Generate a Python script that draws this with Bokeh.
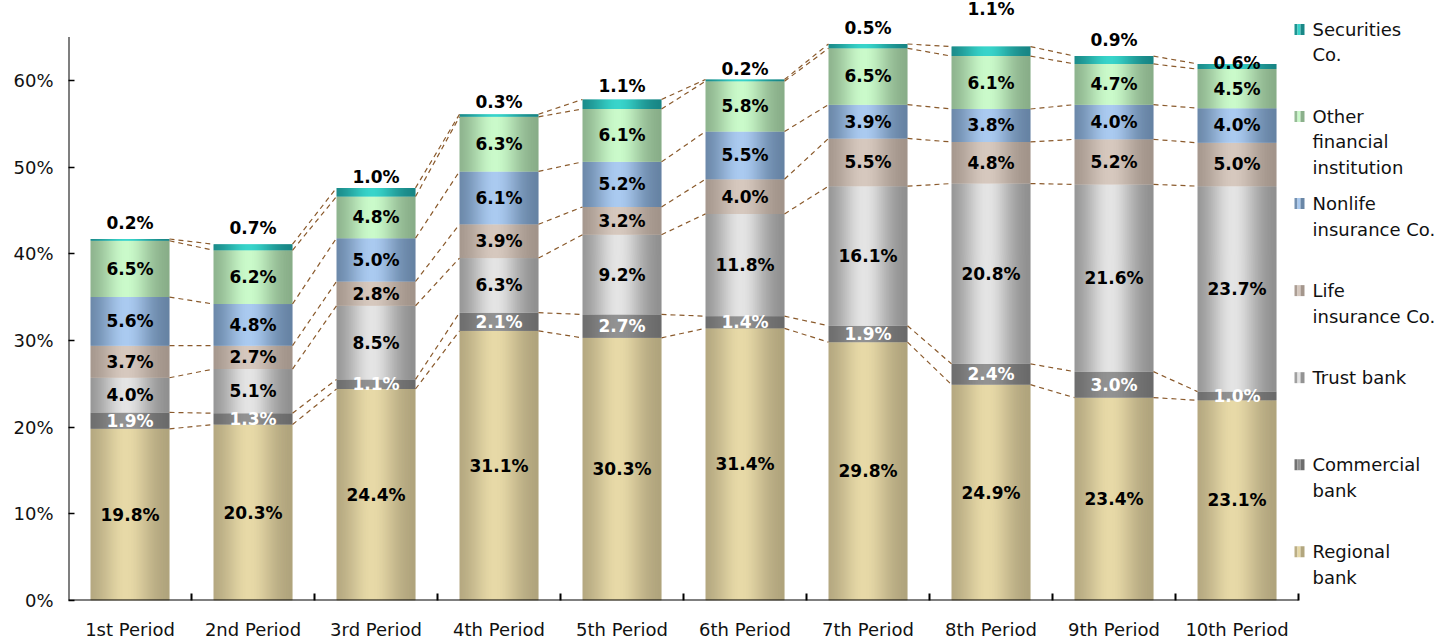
import math
from bokeh.plotting import figure
from bokeh.models import ColumnDataSource, FixedTicker, Range1d
from bokeh.core.properties import value
from bokeh.embed import file_html
from bokeh.resources import INLINE

# ---------------- data ----------------
periods = ["1st Period", "2nd Period", "3rd Period", "4th Period", "5th Period",
           "6th Period", "7th Period", "8th Period", "9th Period", "10th Period"]
regional_bank = [19.8, 20.3, 24.4, 31.1, 30.3, 31.4, 29.8, 24.9, 23.4, 23.1]
commercial_bank = [1.9, 1.3, 1.1, 2.1, 2.7, 1.4, 1.9, 2.4, 3.0, 1.0]
trust_bank = [4.0, 5.1, 8.5, 6.3, 9.2, 11.8, 16.1, 20.8, 21.6, 23.7]
life_insurance = [3.7, 2.7, 2.8, 3.9, 3.2, 4.0, 5.5, 4.8, 5.2, 5.0]
nonlife_insurance = [5.6, 4.8, 5.0, 6.1, 5.2, 5.5, 3.9, 3.8, 4.0, 4.0]
other_financial = [6.5, 6.2, 4.8, 6.3, 6.1, 5.8, 6.5, 6.1, 4.7, 4.5]
securities_co = [0.2, 0.7, 1.0, 0.3, 1.1, 0.2, 0.5, 1.1, 0.9, 0.6]
y_ticks = [0, 10, 20, 30, 40, 50, 60]

series = [regional_bank, commercial_bank, trust_bank, life_insurance,
          nonlife_insurance, other_financial, securities_co]
legend_lines = [["Regional", "bank"], ["Commercial", "bank"], ["Trust bank"],
                ["Life", "insurance Co."], ["Nonlife", "insurance Co."],
                ["Other", "financial", "institution"], ["Securities", "Co."]]

# ---------------- style ----------------
# (edge colour, centre colour) of the cylinder shading per series
shades = [((172, 160, 122), (231, 217, 167)),
          ((104, 104, 104), (146, 146, 146)),
          ((138, 138, 138), (228, 228, 228)),
          ((158, 144, 134), (214, 200, 190)),
          ((98, 126, 158), (170, 202, 240)),
          ((132, 168, 132), (202, 250, 202)),
          ((22, 128, 128), (56, 212, 202))]
label_colors = ["black", "white", "black", "black", "black", "black", "black"]
sec_label_nudge_px = [16, 16, 11, 12, 13, 11, 16, 38, 16, 1]

W, H = 1439, 642
LEFT, BOTTOM = 68, 41
PX_X = 123.0          # pixels per category
PX_Y = 8.683          # pixels per percent
frame_w, frame_h = W - LEFT, H - BOTTOM
x_end = frame_w / PX_X
y_end = frame_h / PX_Y
Y_AXIS_TOP = 65.0
BAR_PX = 79
BAR_W = BAR_PX / PX_X
NSTRIP = BAR_PX
FONT = "DejaVu Sans"


def mix(c1, c2, f):
    return "#%02x%02x%02x" % tuple(int(round(a + (b - a) * f)) for a, b in zip(c1, c2))


def profile(t):
    return math.exp(-((t - 0.45) / 0.32) ** 2)


n = len(periods)
centers = [i + 0.5 for i in range(n)]

p = figure(width=W, height=H, output_backend="svg", toolbar_location=None,
           x_range=Range1d(0, x_end), y_range=Range1d(0, y_end),
           min_border_left=LEFT, min_border_right=0, min_border_top=0,
           min_border_bottom=BOTTOM)
p.outline_line_color = None
p.xgrid.visible = False
p.ygrid.visible = False
p.background_fill_color = "white"

# ---------------- stacked bars with cylinder shading ----------------
cums = []
bottoms = [0.0] * n
sl, sr, sb, st, sc = [], [], [], [], []
for s, vals in enumerate(series):
    tops = [b + v for b, v in zip(bottoms, vals)]
    edge, center = shades[s]
    for i in range(n):
        left = centers[i] - BAR_W / 2
        for k in range(NSTRIP):
            t = (k + 0.5) / NSTRIP
            sl.append(left + k * BAR_W / NSTRIP)
            sr.append(min(left + (k + 1.6) * BAR_W / NSTRIP, left + BAR_W))
            sb.append(bottoms[i])
            st.append(tops[i])
            sc.append(mix(edge, center, profile(t)))
    cums.append((bottoms, tops))
    bottoms = tops

p.quad(left="l", right="r", bottom="b", top="t", fill_color="c", line_color=None,
       source=ColumnDataSource(dict(l=sl, r=sr, b=sb, t=st, c=sc)))

# ---------------- dashed connectors ----------------
x0, y0, x1, y1 = [], [], [], []
for s in range(len(series)):
    tops = cums[s][1]
    for i in range(n - 1):
        x0.append(centers[i] + BAR_W / 2)
        y0.append(tops[i])
        x1.append(centers[i + 1] - BAR_W / 2)
        y1.append(tops[i + 1])
p.segment(x0=x0, y0=y0, x1=x1, y1=y1, line_color="#8a5a2c", line_width=1.2,
          line_dash="5 4")

# ---------------- value labels ----------------
lx, ly, lt, lc = [], [], [], []
for s, vals in enumerate(series):
    b, t = cums[s]
    for i in range(n):
        lx.append(centers[i])
        if s == len(series) - 1:
            ly.append(t[i] + sec_label_nudge_px[i] / PX_Y)
        else:
            ly.append((b[i] + t[i]) / 2)
        lt.append(f"{vals[i]:.1f}%")
        lc.append(label_colors[s])
p.text(x="x", y="y", text="t", text_color="c",
       source=ColumnDataSource(dict(x=lx, y=ly, t=lt, c=lc)),
       text_align="center", text_baseline="middle", text_font=value(FONT),
       text_font_style="bold", text_font_size="17px")

# ---------------- axes ----------------
p.segment(x0=[0, 0], y0=[0, 0], x1=[n, 0], y1=[0, Y_AXIS_TOP],
          line_color="black", line_width=2)

xa = p.xaxis[0]
xa.ticker = FixedTicker(ticks=centers, minor_ticks=list(range(1, n + 1)))
xa.major_label_overrides = {c: lab for c, lab in zip(centers, periods)}
xa.axis_line_color = None
xa.major_tick_line_color = None
xa.major_tick_in = 0
xa.major_tick_out = 0
xa.minor_tick_in = 7
xa.minor_tick_out = 0
xa.minor_tick_line_color = "black"
xa.minor_tick_line_width = 2
xa.major_label_standoff = 18
xa.axis_label_standoff = 0
xa.major_label_text_font = FONT
xa.major_label_text_font_size = "18px"
xa.major_label_text_color = "#111111"

ya = p.yaxis[0]
ya.ticker = FixedTicker(ticks=y_ticks, minor_ticks=[])
ya.major_label_overrides = {v: f"{v}%" for v in y_ticks}
ya.axis_line_color = None
ya.major_tick_in = 6
ya.major_tick_out = 0
ya.major_tick_line_color = "black"
ya.major_tick_line_width = 1.5
ya.minor_tick_line_color = None
ya.major_label_standoff = 15
ya.major_label_text_font = FONT
ya.major_label_text_font_size = "18px"
ya.major_label_text_color = "#111111"

# ---------------- legend (drawn in the right margin of the frame) ----------------
def dx(px):
    return (px - LEFT) / PX_X


def dy(py):
    return (frame_h - py) / PX_Y


LEG_TOP, LEG_STEP, LINE_H = 29.0, 87.2, 25.5
tx, ty, tt = [], [], []
qx0, qx1, qb, qt, qc = [], [], [], [], []
for k, s in enumerate(reversed(range(len(series)))):
    base = LEG_TOP + k * LEG_STEP
    for j, line in enumerate(legend_lines[s]):
        tx.append(dx(1312))
        ty.append(dy(base + j * LINE_H))
        tt.append(line)
    edge, center = shades[s]
    pieces = [(1294, 1297, 0.25), (1297, 1300, 1.0), (1300, 1304, 0.1)]
    for a, bpx, f in pieces:
        qx0.append(dx(a))
        qx1.append(dx(bpx))
        qb.append(dy(base + 5.5))
        qt.append(dy(base - 5.5))
        qc.append(mix(edge, center, f))

p.quad(left=qx0, right=qx1, bottom=qb, top=qt, fill_color=qc, line_color=None)
p.text(x=tx, y=ty, text=tt, text_align="left", text_baseline="middle",
       text_font=value(FONT), text_font_size="18px", text_color="#111111")

open("out.html", "w").write(file_html(p, INLINE))
